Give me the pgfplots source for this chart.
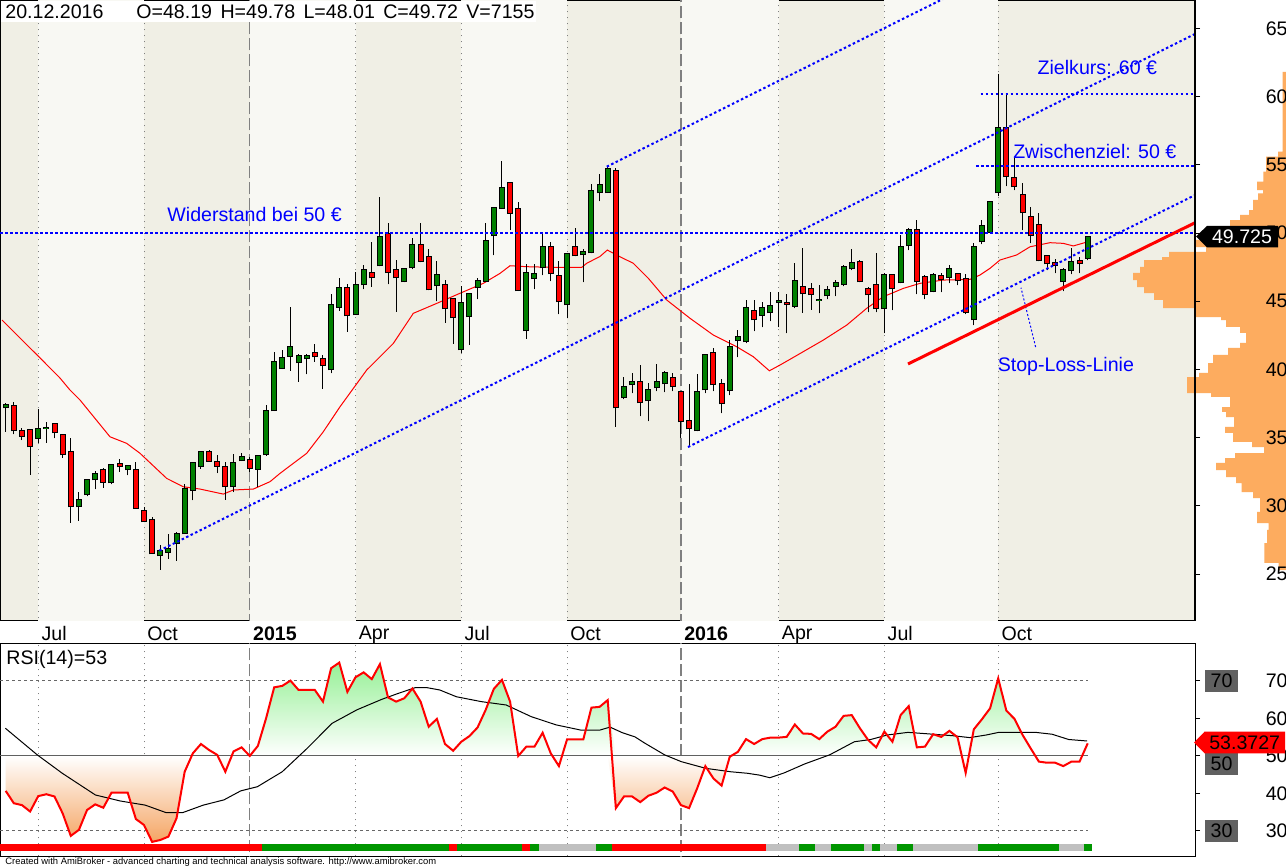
\documentclass[border=0pt]{standalone}
\usepackage{fontspec}
\setmainfont{Liberation Sans}
\usepackage{pgfplots}
\usepackage{pgfplotstable}
\pgfplotsset{compat=1.18}

\definecolor{bgdark}{RGB}{240,239,229}
\definecolor{bglight}{RGB}{248,248,243}
\definecolor{cgreen}{RGB}{0,128,0}
\definecolor{cred}{RGB}{255,0,0}
\definecolor{cblue}{RGB}{0,0,255}
\definecolor{vorange}{RGB}{253,172,95}
\definecolor{sgreen}{RGB}{0,150,0}
\definecolor{sgray}{RGB}{192,192,192}
\definecolor{rgreen}{RGB}{150,240,150}
\definecolor{rorange}{RGB}{245,165,100}
\definecolor{gline}{RGB}{128,128,128}
\definecolor{boxgray}{RGB}{96,96,96}

\pgfplotstableread{
i O H L C
1 37.23 37.57 35.44 37.40
2 37.33 37.60 35.25 35.55
3 35.47 35.69 34.83 35.15
4 35.55 35.55 32.27 34.37
5 35.00 37.11 34.59 35.62
6 35.72 36.13 34.63 35.75
7 35.98 36.00 34.96 35.40
8 35.18 35.20 33.54 33.79
9 33.93 34.96 28.77 29.97
10 29.97 31.02 28.92 30.41
11 30.85 31.95 30.70 31.88
12 31.95 32.56 31.22 32.32
13 32.61 32.76 31.34 31.78
14 31.73 33.07 31.59 32.98
15 33.05 33.42 32.51 32.91
16 32.69 33.00 32.25 32.91
17 32.61 33.22 29.80 29.87
18 29.61 29.92 28.87 28.87
19 28.95 29.19 26.53 26.53
20 26.38 27.14 25.32 26.67
21 26.64 27.94 26.13 26.82
22 27.26 28.06 25.98 27.92
23 27.99 31.59 27.99 31.22
24 31.17 33.20 30.41 33.13
25 32.91 34.03 32.71 33.95
26 33.93 34.10 33.24 33.31
27 33.22 33.73 32.41 32.95
28 32.83 33.24 30.46 31.44
29 31.44 33.81 31.02 33.15
30 33.35 33.88 33.35 33.57
31 33.35 33.61 32.51 32.80
32 32.73 33.70 31.37 33.64
33 33.79 37.40 33.69 36.96
34 37.01 41.29 37.00 40.53
35 40.09 41.41 40.05 40.82
36 40.99 44.58 39.91 41.63
37 40.53 41.16 39.11 40.97
38 40.82 41.16 39.65 40.97
39 41.19 41.87 40.57 40.97
40 40.75 41.06 38.59 40.31
41 40.02 45.51 39.72 44.71
42 44.60 46.69 44.31 45.95
43 45.95 46.25 42.77 43.97
44 44.05 47.13 44.00 46.17
45 46.25 47.66 45.88 47.27
46 47.05 49.33 46.07 46.76
47 47.64 52.63 47.57 49.74
48 49.91 50.72 46.25 47.13
49 47.27 48.03 44.24 46.76
50 46.47 47.40 46.40 47.35
51 47.49 49.62 47.35 49.11
52 49.11 50.72 47.86 47.96
53 48.23 48.81 45.80 45.88
54 46.17 47.93 45.00 46.91
55 46.17 46.54 43.43 44.49
56 45.15 45.20 41.89 43.83
57 41.48 46.12 41.23 44.85
58 43.90 45.60 41.82 45.51
59 46.03 46.69 45.15 46.47
60 46.47 50.72 46.40 49.40
61 49.84 51.90 48.37 51.82
62 51.82 55.29 51.80 53.29
63 53.65 53.70 50.21 51.49
64 51.75 52.26 45.80 45.81
65 42.87 47.71 42.26 47.05
66 46.69 47.71 45.88 46.98
67 47.49 50.06 46.91 48.96
68 48.96 49.33 46.47 47.05
69 46.83 47.93 44.05 45.00
70 44.78 48.50 43.75 48.45
71 48.96 50.35 48.30 48.37
72 48.45 48.81 46.39 48.59
73 48.59 53.58 48.52 53.07
74 52.99 54.31 52.33 53.51
75 52.99 54.90 52.99 54.68
76 54.53 54.75 35.81 37.23
77 37.96 39.43 37.82 38.70
78 38.92 39.72 38.26 39.06
79 39.06 40.31 36.57 37.60
80 37.74 38.99 36.20 38.48
81 38.70 40.38 38.40 39.06
82 38.99 39.87 38.33 39.72
83 39.36 39.72 38.40 38.77
84 38.33 38.40 35.00 36.20
85 36.20 38.92 34.40 35.69
86 35.55 39.65 35.47 38.33
87 38.55 41.10 38.26 41.04
88 41.19 41.56 38.40 38.92
89 38.92 39.28 36.79 37.52
90 38.48 42.14 38.11 41.63
91 42.14 42.87 40.89 42.36
92 42.06 45.07 41.92 44.49
93 44.27 45.07 42.80 43.68
94 43.97 44.93 43.09 44.49
95 44.19 45.66 43.53 44.63
96 44.95 45.66 43.09 45.00
97 44.85 45.51 42.65 44.80
98 44.66 47.81 44.49 46.49
99 46.03 48.91 44.17 45.59
100 45.88 46.34 44.39 45.51
101 45.10 46.17 44.12 45.12
102 45.44 46.10 45.15 45.81
103 46.10 46.54 45.37 46.32
104 46.25 47.64 46.10 47.49
105 47.42 48.81 47.27 47.79
106 47.86 48.01 46.39 46.47
107 45.88 46.03 44.20 45.51
108 46.17 48.52 44.20 44.49
109 44.49 47.05 42.65 46.91
110 46.91 46.98 44.34 45.95
111 46.39 49.84 46.32 48.96
112 49.11 50.35 48.74 50.21
113 50.21 50.94 45.51 46.47
114 46.76 46.91 45.15 45.51
115 45.73 47.05 45.66 46.91
116 46.83 47.05 45.66 46.61
117 46.76 47.64 46.32 47.35
118 46.98 47.00 46.17 46.54
119 46.61 46.98 44.05 44.20
120 43.68 49.25 43.24 48.96
121 49.40 50.94 49.18 50.50
122 50.06 52.30 49.99 52.26
123 52.99 61.64 52.70 57.68
124 57.68 60.18 53.43 54.17
125 54.02 55.56 53.14 53.43
126 52.77 53.65 50.21 51.53
127 51.16 51.89 49.25 49.84
128 50.57 51.45 47.93 48.01
129 48.30 48.30 47.27 47.79
130 47.79 48.08 47.05 47.64
131 46.47 47.42 45.73 47.27
132 47.27 48.89 46.98 47.86
133 47.93 48.23 47.05 47.79
134 48.19 49.78 48.01 49.72
}\candles

\pgfplotstableread{
x y
0.545 43.63
2.76 42.31
5.22 40.85
7.67 39.38
8.90 38.50
10.13 37.77
13.82 35.07
15.87 34.59
17.51 33.86
20.79 32.02
22.83 31.41
24.88 31.24
27.75 30.87
28.98 31.17
31.44 31.24
33.49 31.78
34.72 32.39
38.00 33.86
40.04 35.44
42.09 37.27
45.38 39.97
48.65 41.92
51.10 44.12
53.98 44.85
56.84 45.59
59.71 46.32
61.76 47.05
62.99 47.61
65.04 47.54
68.31 47.49
71.81 47.49
72.42 47.79
74.05 48.29
74.95 48.76
76.51 48.27
78.14 47.79
79.99 46.69
82.25 45.10
85.11 43.76
87.98 42.53
90.86 41.67
92.90 40.94
94.87 39.91
96.18 40.33
97.41 40.75
101.50 42.16
104.38 43.26
106.84 44.49
108.88 45.34
111.34 45.95
113.39 46.32
116.25 46.56
119.53 46.61
120.76 46.93
121.99 47.42
123.22 48.03
125.27 48.40
126.91 49.00
129.37 49.30
131.0 49.25
132.23 49.06
133.92 49.35
}\matab

\pgfplotstableread{
i r
1 40.7
2 37.4
3 36.9
4 35.2
5 39.3
6 39.8
7 39.2
8 34.7
9 28.7
10 30.3
11 35.6
12 37.1
13 36.2
14 40.2
15 40.2
16 40.2
17 33.2
18 31.6
19 27.1
20 27.6
21 28.5
22 33.4
23 45.8
24 50.7
25 53.2
26 51.6
27 50.3
28 45.8
29 51.2
30 52.3
31 50.0
32 52.7
33 60.0
34 68.3
35 68.7
36 70.1
37 67.6
38 67.6
39 67.6
40 64.5
41 73.4
42 74.9
43 67.1
44 71.0
45 72.3
46 70.5
47 74.5
48 65.6
49 64.5
50 65.4
51 68.0
52 64.5
53 57.8
54 59.9
55 53.2
56 51.4
57 53.8
58 55.3
59 57.6
60 62.3
61 67.9
62 70.3
63 64.5
64 50.0
65 52.5
66 52.5
67 56.2
68 50.7
69 47.3
70 54.4
71 54.4
72 54.4
73 62.9
74 63.1
75 64.9
76 36.1
77 39.2
78 39.2
79 37.7
80 39.4
81 40.2
82 41.6
83 40.5
84 36.9
85 36.1
86 41.4
87 47.3
88 44.0
89 42.1
90 49.8
91 51.1
92 54.5
93 53.2
94 54.5
95 54.9
96 54.9
97 55.1
98 58.4
99 56.0
100 55.9
101 54.5
102 56.5
103 57.8
104 60.7
105 60.9
106 57.4
107 54.3
108 52.3
109 56.5
110 53.8
111 60.9
112 63.3
113 52.3
114 52.5
115 55.8
116 55.1
117 56.7
118 55.0
119 45.5
120 57.1
121 59.8
122 62.7
123 70.7
124 62.1
125 59.9
126 55.6
127 52.0
128 48.5
129 48.2
130 48.2
131 47.3
132 48.5
133 48.5
134 53.37
}\rsitab

\pgfplotstableread{
x y
0.96 57.4
4.88 50.3
7.95 45.4
12.03 39.6
15.09 38.0
18.15 36.9
20.71 34.9
22.75 34.9
25.29 36.9
27.83 38.3
29.89 40.7
31.93 41.8
34.99 45.8
38.04 52.0
41.11 58.7
44.16 62.3
47.22 65.1
49.26 66.7
51.31 68.2
52.84 68.2
54.36 67.6
56.40 65.8
59.46 64.5
62.52 63.6
65.59 60.5
68.65 58.3
71.71 56.9
74.01 56.9
75.29 57.7
76.81 56.2
78.35 55.1
79.5 53.5
82.0 50.3
84.03 48.5
87.07 46.7
90.11 45.8
92.14 45.4
93.66 44.9
94.93 44.2
96.70 45.5
99.23 47.9
102.27 50.3
105.32 53.8
107.33 54.4
109.36 55.6
111.9 56.3
114.43 55.9
117.47 55.4
119.5 54.9
121.53 55.6
123.06 56.3
127.6 56.3
129.63 55.8
131.66 54.4
133.93 54.0
}\sigtab

\newcommand{\fs}{\fontsize{9.8}{11.5}\selectfont}
\newcommand{\seg}[3]{\addplot[fill=#3, draw=none] coordinates {(#1,24.67) (#2,24.67) (#2,26.53) (#1,26.53)};}
\newcommand{\band}[2]{\addplot[fill=bglight, draw=none] coordinates {(#1,20) (#2,20) (#2,70) (#1,70)};}

\tikzset{
  bluedot/.style={cblue, line width=1pt, dash pattern=on 1.25pt off 1.25pt},
  gridq/.style={gline, line width=0.5pt, dash pattern=on 0.5pt off 2.5pt},
  gridy/.style={gline, line width=0.7pt, dash pattern=on 6pt off 2pt},
}
\pgfplotsset{
  rsibox/.style={at={(0pt,-321.5pt)}, anchor=north west,
    width=597.5pt, height=106.5pt, scale only axis,
    xmin=0.2993, xmax=147.19, ymin=23.33, ymax=80.13},
  pricebox/.style={at={(0pt,0pt)}, anchor=north west,
    width=597.5pt, height=310pt, scale only axis,
    xmin=0.2993, xmax=147.19, ymin=21.64, ymax=67.09},
  nomark/.style={only marks, mark=*, mark size=0pt, mark options={draw=none, fill=none}},
}

\begin{document}
\begin{tikzpicture}[every node/.append style={font=\fs}]
\useasboundingbox (0,0) rectangle (643pt,-434pt);
\fill[white] (0,0) rectangle (643pt,-434pt);

% ---------------- main price panel ----------------
\begin{axis}[
  pricebox,
  axis background/.style={fill=bgdark},
  axis line style={black, line width=0.5pt},
  ytick=\empty,
  xtick={5,18,44,57,70,96,109,123},
  xticklabels={Jul,Oct,Apr,Jul,Oct,Apr,Jul,Oct},
  extra x ticks={31,84},
  extra x tick labels={\textbf{2015},\textbf{2016}},
  major tick length=0pt,
  xticklabel style={anchor=north west, inner sep=0pt, xshift=1.5pt, yshift=-3pt},
]
\band{5}{18}
\band{31}{44}
\band{57}{70}
\band{84}{96}
\band{109}{123}
\pgfplotsinvokeforeach{5,18,44,57,70,96,109,123}{\addplot[gridq] coordinates {(#1,20) (#1,70)};}
\pgfplotsinvokeforeach{31,84}{\addplot[gridy] coordinates {(#1,20) (#1,70)};}

\addplot[cred, line width=0.5pt] table[x=x,y=y] {\matab};

% wicks
\addplot[nomark, error bars/.cd, y dir=plus, y explicit, error mark=none,
  error bar style={draw=black, line width=0.5pt}]
  table[x=i, y=L, y error plus expr={\thisrow{H}-\thisrow{L}}] {\candles};
% body outlines
\addplot[nomark, error bars/.cd, y dir=plus, y explicit, error mark=none,
  error bar style={draw=black, line width=3pt}]
  table[x=i, y expr={min(\thisrow{O},\thisrow{C})-0.0733}, y error plus expr={abs(\thisrow{C}-\thisrow{O})+0.1466}] {\candles};
% green bodies
\addplot[nomark, error bars/.cd, y dir=plus, y explicit, error mark=none,
  error bar style={draw=cgreen, line width=2pt}]
  table[x=i, y expr={min(\thisrow{O},\thisrow{C})}, y error plus expr={(\thisrow{C}>\thisrow{O})*(\thisrow{C}-\thisrow{O})}] {\candles};
% red bodies
\addplot[nomark, error bars/.cd, y dir=plus, y explicit, error mark=none,
  error bar style={draw=cred, line width=2pt}]
  table[x=i, y expr={min(\thisrow{O},\thisrow{C})}, y error plus expr={(\thisrow{O}>\thisrow{C})*(\thisrow{O}-\thisrow{C})}] {\candles};

% trend lines
\addplot[bluedot] coordinates {(0.2993,50) (147.19,50)};
\addplot[bluedot] coordinates {(19.88,26.72) (147.19,64.6)};
\addplot[bluedot] coordinates {(74.88,54.87) (147.19,76.39)};
\addplot[bluedot] coordinates {(84.87,34.32) (147.19,52.79)};
\addplot[bluedot] coordinates {(120.3,54.92) (147.19,54.92)};
\addplot[bluedot] coordinates {(120.85,60.17) (147.19,60.17)};
\addplot[cblue, line width=0.5pt, dash pattern=on 1pt off 1pt] coordinates {(127.6,41.65) (125.8,46.0)};
\addplot[cred, line width=1.5pt] coordinates {(111.92,40.41) (147.19,50.76)};

\node[anchor=west, text=cblue, inner sep=0pt] at (axis cs:20.83,51.40) {Widerstand bei 50 €};
\node[anchor=west, text=cblue, inner sep=0pt] at (axis cs:127.8,62.11) {Zielkurs: 60 €};
\node[anchor=west, text=cblue, inner sep=0pt] at (axis cs:124.8,55.95) {Zwischenziel: 50 €};
\node[anchor=west, text=cblue, inner sep=0pt] at (axis cs:122.9,40.26) {Stop-Loss-Linie};
\end{axis}

% top info strip
\fill[white] (0.25pt,-0.25pt) rectangle (268pt,-11pt);
\node[anchor=west, inner sep=0pt] at (2.5pt,-6pt) {20.12.2016};
\node[anchor=west, inner sep=0pt] at (68pt,-6pt) {O=48.19\hspace{4.2pt}H=49.78\hspace{4.2pt}L=48.01\hspace{4.2pt}C=49.72\hspace{4.2pt}V=7155};

% ---------------- volume profile ----------------
\begin{axis}[
  at={(550pt,0pt)}, anchor=north west,
  width=93pt, height=310pt, scale only axis,
  xmin=0, xmax=186, x dir=reverse, ymin=21.64, ymax=67.09,
  axis lines=none, clip=false,
]
\addplot[fill=vorange, draw=none] coordinates {
(0,61.83) (3.4,61.83) (3.4,55.97) (8,55.97) (8,55.60) (20,55.60) (20,54.50) (22.6,54.50) (22.6,53.77) (29,53.77) (29,53.16) (23,53.16) (23,52.92) (28,52.92) (28,52.43) (33,52.43) (33,51.69) (37,51.69) (37,51.33) (46,51.33) (46,50.96) (56,50.96) (56,50.52) (70,50.52) (70,49.50) (90,49.50) (90,48.98) (80,48.98) (80,48.62) (117,48.62) (117,48.25) (124,48.25) (124,48.03) (142,48.03) (142,47.52) (146,47.52) (146,47.08) (153,47.08) (153,46.56) (149,46.56) (149,46.05) (142,46.05) (142,45.61) (132,45.61) (132,45.10) (123,45.10) (123,44.51) (92,44.51) (92,44.14) (90,44.14) (90,43.85) (65,43.85) (65,43.63) (60,43.63) (60,43.12) (46,43.12) (46,42.68) (40,42.68) (40,41.95) (46,41.95) (46,41.58) (58,41.58) (58,41.07) (73,41.07) (73,40.48) (78,40.48) (78,39.75) (87,39.75) (87,39.45) (99,39.45) (99,38.28) (75,38.28) (75,37.99) (56,37.99) (56,37.25) (64,37.25) (64,36.89) (60,36.89) (60,36.52) (52,36.52) (52,35.79) (61,35.79) (61,35.35) (53,35.35) (53,34.69) (34,34.69) (34,34.32) (22,34.32) (22,33.88) (51,33.88) (51,33.51) (61,33.51) (61,33.15) (70,33.15) (70,32.63) (60,32.63) (60,32.12) (50,32.12) (50,31.68) (44.5,31.68) (44.5,31.02) (33,31.02) (33,30.58) (26,30.58) (26,29.56) (29,29.56) (29,28.75) (17.5,28.75) (17.5,28.24) (19,28.24) (19,27.28) (21.6,27.28) (21.6,25.82) (7.4,25.82) (7.4,25.30) (0,25.30)};
\end{axis}

% ---------------- price scale overlay ----------------
\begin{axis}[
  pricebox,
  axis x line=none, axis y line*=right,
  y axis line style={black, line width=0.75pt},
  xtick=\empty, ytick={25,30,...,65},
  tick align=outside, major tick length=2.5pt,
  ytick style={black, line width=0.5pt},
  /pgf/number format/assume math mode=true,
  yticklabel style={anchor=east, inner sep=0pt, xshift=44pt},
  clip=false,
]
\fill[black] (axis cs:147.32,49.75) -- (axis cs:148.67,50.54) -- (axis cs:157.4,50.54) -- (axis cs:157.4,48.96) -- (axis cs:148.67,48.96) -- cycle;
\node[text=white, inner sep=0pt] at (axis cs:152.97,49.75) {49.725};
\end{axis}

% ---------------- RSI panel: background and grid ----------------
\begin{axis}[
  rsibox,
  axis line style={black, line width=0.5pt},
  xtick=\empty, ytick=\empty,
]
\pgfplotsinvokeforeach{5,18,44,57,70,96,109,123}{\addplot[gridq] coordinates {(#1,20) (#1,90)};}
\pgfplotsinvokeforeach{31,84}{\addplot[gridy] coordinates {(#1,20) (#1,90)};}
\addplot[gline!80!black, line width=0.5pt, dash pattern=on 1.5pt off 1.5pt] coordinates {(0.2993,70) (134,70)};
\addplot[gline!80!black, line width=0.5pt, dash pattern=on 1.5pt off 1.5pt] coordinates {(0.2993,30) (134,30)};
\end{axis}

% ---------------- RSI panel: shaded areas (stacked) ----------------
\begin{axis}[
  rsibox, axis lines=none, xtick=\empty, ytick=\empty,
  stack plots=y,
]
\addplot[draw=none] table[x=i, y expr=50] {\rsitab};
\addplot[draw=none, top color=rgreen, bottom color=white] table[x=i, y expr={max(\thisrow{r},50)-50}] {\rsitab} \closedcycle;
\addplot[draw=none] table[x=i, y expr={min(\thisrow{r},50)-max(\thisrow{r},50)}] {\rsitab};
\addplot[draw=none, top color=white, bottom color=rorange] table[x=i, y expr={50-min(\thisrow{r},50)}] {\rsitab} \closedcycle;
\end{axis}

% ---------------- RSI panel: lines ----------------
\begin{axis}[
  rsibox, axis lines=none, xtick=\empty, ytick=\empty,
]
\addplot[gline!75!black, line width=0.5pt] coordinates {(0.2993,50) (134,50)};
\addplot[black, line width=0.5pt] table[x=x,y=y] {\sigtab};
\addplot[cred, line width=1pt] table[x=i,y=r] {\rsitab};

\seg{0.2993}{32.5}{cred}
\seg{32.5}{55.5}{sgreen}
\seg{55.5}{56.5}{cred}
\seg{56.5}{64.5}{sgreen}
\seg{64.5}{65.5}{cred}
\seg{65.5}{66.5}{sgreen}
\seg{66.5}{73.5}{sgray}
\seg{73.5}{75.5}{sgreen}
\seg{75.5}{94.5}{cred}
\seg{94.5}{98.5}{sgray}
\seg{98.5}{100.5}{sgreen}
\seg{100.5}{102.5}{sgray}
\seg{102.5}{106.5}{sgreen}
\seg{106.5}{107.5}{sgray}
\seg{107.5}{108.5}{sgreen}
\seg{108.5}{110.5}{sgray}
\seg{110.5}{112.5}{sgreen}
\seg{112.5}{120.5}{sgray}
\seg{120.5}{130.5}{sgreen}
\seg{130.5}{133.5}{sgray}
\seg{133.5}{134.5}{sgreen}

\node[anchor=west, inner sep=0pt] at (rel axis cs:0,1) [xshift=3pt, yshift=-8pt] {RSI(14)=53};
\end{axis}

% ---------------- RSI scale overlay ----------------
\begin{axis}[
  rsibox,
  axis x line=none, axis y line*=right,
  y axis line style={black, line width=0.5pt},
  xtick=\empty, ytick={30,40,50,60,70},
  tick align=outside, major tick length=2.5pt,
  ytick style={black, line width=0.5pt},
  /pgf/number format/assume math mode=true,
  yticklabel style={anchor=east, inner sep=0pt, xshift=44pt},
  clip=false,
]
\node[fill=boxgray, minimum width=16.5pt, minimum height=11pt, inner sep=0pt] at (axis cs:150.45,70) {70};
\node[fill=boxgray, minimum width=16.5pt, minimum height=11pt, inner sep=0pt] at (axis cs:150.45,47.87) {50};
\node[fill=boxgray, minimum width=16.5pt, minimum height=11pt, inner sep=0pt] at (axis cs:150.45,30) {30};
\fill[cred] (axis cs:147.07,53.6) -- (axis cs:148.36,56.48) -- (axis cs:158.26,56.48) -- (axis cs:158.26,50.72) -- (axis cs:148.36,50.72) -- cycle;
\node[inner sep=0pt] at (axis cs:153.3,53.6) {53.3727};
\end{axis}

\node[anchor=west, inner sep=0pt, font=\fontsize{4.7}{5.5}\selectfont] at (2.5pt,-431pt) {Created with AmiBroker - advanced charting and technical analysis software. http://www.amibroker.com};
\end{tikzpicture}
\end{document}
